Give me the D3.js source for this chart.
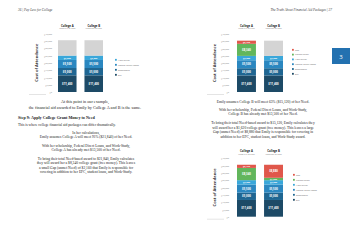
<!DOCTYPE html>
<html>
<head>
<meta charset="utf-8">
<script src="https://cdn.jsdelivr.net/npm/d3@7"></script>
<style>
body { margin: 0; background: #fff; }
svg { display: block; }
</style>
</head>
<body>
<svg id="page" width="350" height="250"></svg>
<script>
// chart data
var colleges = ["College A", "College B"];
var collegeNotes = ["Meets 91% of Need", "Meets 63% of Need"];
var categories = ["EFC", "Scholarship", "Federal Direct Loans", "Work-Study", "College Grant", "Gap"];
var costOfAttendance = [35400, 35400];
var efc = [11400, 11400];
var scholarship = [5000, 5000];
var directLoans = [5500, 5500];
var workStudy = [3000, 3000];
var grantPartial = [8340, 0];   // middle chart: only College A worked out yet
var gapPartial = [2160, 0];
var grantFinal = [8340, 1620];
var gapFinal = [2160, 8880];
var yTicks = [0, 5000, 10000, 15000, 20000, 25000, 30000, 35000, 40000];

var svg = d3.select("#page");
var serif = "'Liberation Serif', 'DejaVu Serif', serif";
var sans = "'Open Sans', 'Liberation Sans', sans-serif";

var color = d3.scaleOrdinal()
	.domain(categories.concat(["Remaining"]))
	.range(["#1d4a66", "#1f6692", "#2b87c0", "#3aa7da", "#62b65c", "#e0574b", "#d4d4d4"]);

var money = function(d) { return "$" + d3.format(",")(d); };

function drawChart(cfg) {
	var g = svg.append("g");
	var keys = cfg.keys;
	var rows = colleges.map(function(c, i) {
		var r = {college: c}, used = 0;
		keys.forEach(function(k) { r[k] = cfg.values[k][i]; used += r[k]; });
		r.Remaining = costOfAttendance[i] - used;
		return r;
	});
	var series = d3.stack().keys(keys.concat(["Remaining"]))(rows);

	var x = d3.scaleBand().domain(colleges).range([cfg.x0, cfg.x1]).paddingInner(0.3);
	var y = d3.scaleLinear().domain([0, 40000]).range([cfg.base, cfg.top]);

	var axis = g.append("g")
		.attr("transform", "translate(" + cfg.axisX + ",0)")
		.call(d3.axisLeft(y).tickValues(yTicks).tickFormat(money).tickSize(0).tickPadding(0));
	axis.select(".domain").remove();
	axis.selectAll("text").attr("font-family", sans).attr("font-size", 2.2).attr("fill", "#888");

	g.append("text")
		.attr("transform", "translate(" + cfg.labelX + "," + (cfg.base + cfg.top) / 2 + ") rotate(-90)")
		.attr("text-anchor", "middle")
		.attr("font-family", sans).attr("font-weight", "bold").attr("font-size", 4)
		.attr("fill", "#333")
		.text("Cost of Attendance");

	var layer = g.selectAll(".layer").data(series).enter().append("g")
		.attr("fill", function(s) { return color(s.key); });
	layer.selectAll("rect").data(function(s) { return s; }).enter().append("rect")
		.attr("x", function(d) { return x(d.data.college); })
		.attr("width", x.bandwidth())
		.attr("y", function(d) { return y(d[1]); })
		.attr("height", function(d) { return y(d[0]) - y(d[1]); });

	series.forEach(function(s) {
		if (s.key == "Remaining") return;
		s.forEach(function(d) {
			var v = d[1] - d[0];
			if (v <= 0) return;
			g.append("text")
				.attr("x", x(d.data.college) + x.bandwidth() / 2)
				.attr("y", (y(d[0]) + y(d[1])) / 2 + 1)
				.attr("text-anchor", "middle")
				.attr("font-family", sans).attr("font-weight", "bold")
				.attr("font-size", v < 3500 ? 2.2 : 2.8)
				.attr("fill", "#fff")
				.text(money(v));
		});
	});

	colleges.forEach(function(c, i) {
		var cx = x(c) + x.bandwidth() / 2;
		g.append("text").attr("x", cx).attr("y", cfg.titleY)
			.attr("text-anchor", "middle").attr("font-family", sans).attr("font-weight", "bold")
			.attr("font-size", 2.8).attr("fill", "#222").text(c);
		g.append("text").attr("x", cx).attr("y", cfg.titleY + 2.8)
			.attr("text-anchor", "middle").attr("font-family", sans)
			.attr("font-size", 1.8).attr("fill", "#777").text(collegeNotes[i]);
	});

	var legendKeys = keys.slice().reverse();
	var lg = g.selectAll(".lg").data(legendKeys).enter().append("g")
		.attr("transform", function(d, i) { return "translate(" + cfg.legendX + "," + (cfg.legendY + i * cfg.legendStep) + ")"; });
	lg.append("rect").attr("x", 0).attr("y", -1.6).attr("width", 1.8).attr("height", 1.8)
		.attr("fill", function(d) { return color(d); });
	lg.append("text").attr("x", 3).attr("y", 0)
		.attr("font-family", sans).attr("font-size", 2.2).attr("fill", "#666").text(function(d) { return d; });

	g.append("line").attr("x1", cfg.labelX - 9).attr("x2", cfg.labelX + 8)
		.attr("y1", cfg.base + 2.5).attr("y2", cfg.base + 2.5)
		.attr("stroke", "#bbb").attr("stroke-width", 0.4);
}

var base4 = {"EFC": efc, "Scholarship": scholarship, "Federal Direct Loans": directLoans, "Work-Study": workStudy};

drawChart({
	keys: categories.slice(0, 4), values: base4,
	x0: 58, x1: 103, base: 92, top: 33.5, axisX: 52, labelX: 38, titleY: 26.5,
	legendX: 115, legendY: 60.5, legendStep: 5
});
drawChart({
	keys: categories,
	values: Object.assign({"College Grant": grantPartial, "Gap": gapPartial}, base4),
	x0: 237, x1: 283, base: 92, top: 34, axisX: 229, labelX: 216, titleY: 26.5,
	legendX: 292, legendY: 50.5, legendStep: 4.8
});
drawChart({
	keys: categories,
	values: Object.assign({"College Grant": grantFinal, "Gap": gapFinal}, base4),
	x0: 237, x1: 283, base: 216.7, top: 158, axisX: 229, labelX: 216, titleY: 152,
	legendX: 293, legendY: 175.5, legendStep: 5
});

// page text
function line(x, y, str, opt) {
	opt = opt || {};
	svg.append("text").attr("x", x).attr("y", y)
		.attr("text-anchor", opt.anchor || "start")
		.attr("font-family", serif)
		.attr("font-size", opt.size || 4)
		.attr("font-weight", opt.bold ? "bold" : "normal")
		.attr("font-style", opt.italic ? "italic" : "normal")
		.attr("fill", opt.fill || "#222")
		.text(str);
}

line(18, 11, "36 | Pay Less for College", {size: 3.4, italic: true, fill: "#444"});
line(332, 11, "The Truth About Financial Aid Packages | 37", {size: 3.4, italic: true, fill: "#444", anchor: "end"});

var leftCenter = [
	[102.5, "At this point in our example,"],
	[108.5, "the financial aid awarded to Emily by College A and B is the same."]
];
leftCenter.forEach(function(l) { line(85, l[0], l[1], {size: 4.2, anchor: "middle"}); });

line(18, 118.5, "Step 9: Apply College Grant Money to Need", {size: 4.1, bold: true});
line(18, 126, "This is where college financial aid packages can differ dramatically.", {size: 3.6});

var leftBody = [
	[133.5, "In her calculations,"],
	[138, "Emily assumes College A will meet 91% ($21,840) of her Need."],
	[146.5, "With her scholarship, Federal Direct Loans, and Work-Study,"],
	[151, "College A has already met $13,500 of her Need."],
	[159.5, "To bring their total Need-based award to $21,840, Emily calculates"],
	[164, "they will award her a $8,340 college grant (free money). This leaves"],
	[168.5, "a small Gap (unmet Need) of $2,160 that Emily is responsible for"],
	[173, "covering in addition to her EFC, student loans, and Work-Study."]
];
leftBody.forEach(function(l) { line(86, l[0], l[1], {size: 3.6, anchor: "middle"}); });

var rightBody = [
	[102.5, "Emily assumes College B will meet 63% ($15,120) of her Need."],
	[110.5, "With her scholarship, Federal Direct Loans, and Work-Study,"],
	[115, "College B has already met $13,500 of her Need."],
	[124, "To bring their total Need-based award to $15,120, Emily calculates they"],
	[128.5, "will award her a $1,620 college grant (free money). This leaves a large"],
	[133, "Gap (unmet Need) of $8,880 that Emily is responsible for covering in"],
	[137.5, "addition to her EFC, student loans, and Work-Study award."]
];
rightBody.forEach(function(l) { line(263, l[0], l[1], {size: 3.6, anchor: "middle"}); });

// chapter tab
svg.append("rect").attr("x", 332).attr("y", 48).attr("width", 18).attr("height", 16).attr("fill", "#2371b0");
svg.append("text").attr("x", 341).attr("y", 58.5).attr("text-anchor", "middle")
	.attr("font-family", sans).attr("font-size", 6).attr("fill", "#fff").text("3");
</script>
</body>
</html>
